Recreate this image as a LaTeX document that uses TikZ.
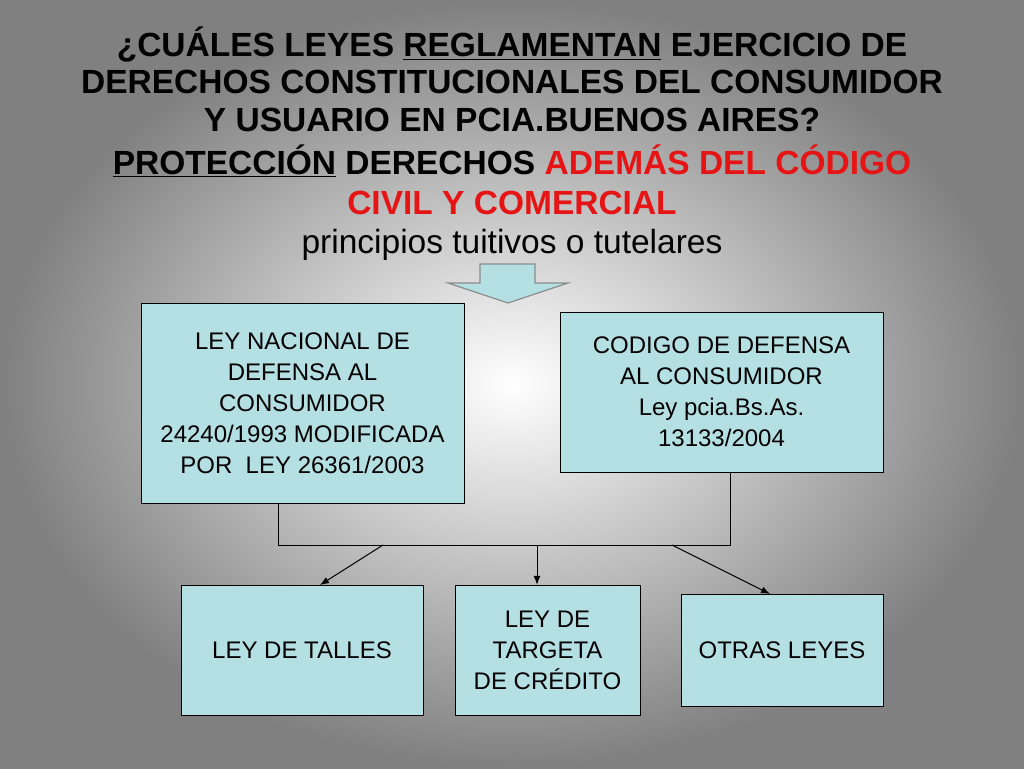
\documentclass[tikz,border=0pt]{standalone}
\usepackage{fontspec}
\usetikzlibrary{arrows.meta}
\setmainfont{Liberation Sans}
\definecolor{boxfill}{RGB}{180,224,228}
\definecolor{titlered}{RGB}{230,20,20}
\begin{document}
\begin{tikzpicture}[x=1pt,y=1pt,yscale=-1,xscale=1,
    lawbox/.style={draw=black,fill=boxfill,align=center,font=\fontsize{24}{31}\selectfont,inner sep=0pt},
    titleline/.style={font=\fontsize{33.5}{36}\selectfont\bfseries},
    link/.style={draw=black,line width=1pt},
    tip/.style={link,-{Latex[length=9pt,width=7pt]}}]
    % Background
    \shade[inner color=white,outer color=black!50] (0,0) rectangle (1024,768);
    \useasboundingbox (0,0) rectangle (1024,768);
    % Title
    \node (t1) [titleline] at (512,45) {¿CUÁLES LEYES \underline{REGLAMENTAN} EJERCICIO DE};
    \node (t2) [titleline] at (512,82) {DERECHOS CONSTITUCIONALES DEL CONSUMIDOR};
    \node (t3) [titleline] at (512,120) {Y USUARIO EN PCIA.BUENOS AIRES?};
    \node (t4) [titleline] at (512,161) {\underline{PROTECCIÓN} DERECHOS \textcolor{titlered}{ADEMÁS DEL CÓDIGO}};
    \node (t5) [titleline,text=titlered] at (512,203) {CIVIL Y COMERCIAL};
    \node (t6) [font=\fontsize{33.5}{36}\selectfont] at (512,245) {principios tuitivos o tutelares};
    % Block arrow
    \draw [fill=boxfill,draw=black!45,line width=1.2pt] (480,264) -- (535,264) -- (535,283) -- (568,283)
        -- (508,303) -- (448,283) -- (480,283) -- cycle;
    % Upper boxes
    \node (nacional) [lawbox,minimum width=323pt,minimum height=200pt] at (302.5,403)
        {LEY NACIONAL DE\\DEFENSA AL\\CONSUMIDOR\\24240/1993 MODIFICADA\\POR\ \ LEY 26361/2003};
    \node (codigo) [lawbox,minimum width=323pt,minimum height=160pt] at (721.5,392)
        {CODIGO DE DEFENSA\\AL CONSUMIDOR\\Ley pcia.Bs.As.\\13133/2004};
    % Lower boxes
    \node (talles) [lawbox,minimum width=242pt,minimum height=130pt] at (302,650) {LEY DE TALLES};
    \node (tarjeta) [lawbox,minimum width=185pt,minimum height=130pt] at (547.5,650) {LEY DE\\TARGETA\\DE CRÉDITO};
    \node (otras) [lawbox,minimum width=202pt,minimum height=112pt] at (782,650) {OTRAS LEYES};
    % Connections
    \coordinate (jl) at (278,545);
    \coordinate (jr) at (730,545);
    \draw [link] (nacional.south -| jl) -- (jl) -- (jr) -- (codigo.south -| jr);
    \draw [tip] (383,545) -- (320,585);
    \draw [tip] (537,545) -- (tarjeta.north -| 537,0);
    \draw [tip] (672,545) -- (770,594);
\end{tikzpicture}
\end{document}
